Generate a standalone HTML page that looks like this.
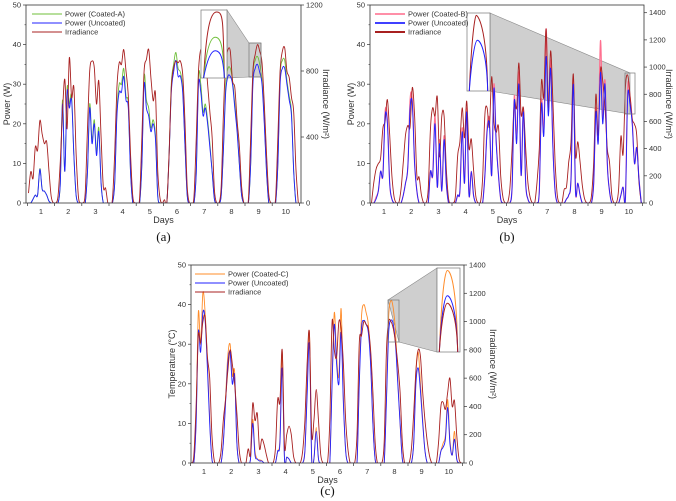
<!DOCTYPE html>
<html><head><meta charset="utf-8">
<style>
html,body{margin:0;padding:0;background:#fff;}
svg{display:block;font-family:"Liberation Sans",sans-serif;}
</style></head>
<body>
<svg id="fig" width="676" height="501" viewBox="0 0 676 501" xmlns="http://www.w3.org/2000/svg"></svg>
<script>
// ---------- DATA (12 samples per day, days 1..10) ----------
const dayLabels = ["1","2","3","4","5","6","7","8","9","10"];
const leftTicks = [0,10,20,30,40,50];
const rightTicksA = [0,400,800,1200];
const rightTicksBC = [0,200,400,600,800,1000,1200,1400];

const irrA = [
 60,190,150,340,320,500,420,360,370,200,40,0,
 0,40,250,550,750,450,880,640,700,300,40,0,
 0,60,450,800,860,820,600,740,400,100,90,0,
 0,20,300,700,850,840,930,800,650,300,40,0,
 0,30,400,800,870,930,760,620,660,200,30,0,
 20,0,300,700,820,860,850,860,780,500,100,0,
 0,40,400,800,930,880,900,720,550,400,80,0,
 0,100,550,850,930,920,740,700,500,350,100,0,
 0,20,400,800,900,960,920,850,600,300,50,0,
 0,30,400,800,920,940,800,760,640,550,200,0];
const uncA = [
 0,0,1,2,2,8.5,3.5,3,2,0.5,0,0,
 0,0,5,25,8,28,24,26,12,2,0,0,
 0,0,8,24,15,20,12,18,5,0,0,0,
 0,0,5,22,28,28,32,26,24,8,0,0,
 0,0,10,30,24,22,18,20,16,2,0,0,
 0,0,12,28,33,36,32,32,28,15,2,0,
 0,0,8,30,28,22,24,20,14,8,1,0,
 0,2,14,28,32,32,30,24,18,10,2,0,
 0,0,10,30,34,35,33,30,20,8,0,0,
 0,0,10,30,34,34,30,26,22,8,0,0];
const coatA = [
 0,0,1,2,2,8.7,3.6,3,2,0.5,0,0,
 0,0,5,26,8,29,25,27,12,2,0,0,
 0,0,8,25,16,21,13,19,5,0,0,0,
 0,0,5,23,30,30,34,27,25,8,0,0,
 0,0,10,32,26,24,19,21,17,2,0,0,
 0,0,12,30,35,38,34,33,29,15,2,0,
 0,0,8,32,30,23,25,21,15,8,1,0,
 0,2,14,30,34,34,31,25,19,10,2,0,
 0,0,10,32,36,37,35,31,21,8,0,0,
 0,0,10,32,36,36,31,27,23,8,0,0];

const irrB = [
 0,150,250,290,330,550,600,760,500,200,40,0,
 0,100,300,500,570,560,850,640,200,190,60,0,
 0,100,550,700,640,780,340,640,640,250,30,0,
 0,50,350,450,700,480,750,400,470,250,50,0,
 0,180,650,700,560,930,600,520,560,200,40,0,
 0,100,400,750,700,1030,650,700,400,150,40,0,
 0,150,400,900,780,1280,700,1120,750,300,50,0,
 0,100,120,300,450,950,350,450,300,130,30,0,
 0,50,300,800,500,980,900,700,400,300,60,0,
 0,100,490,360,850,940,800,620,580,500,150,0];
const uncB = [
 0,0,1,3,8,7,22,20,5,1,0,0,
 0,0,2,5,9,24,25,10,3,0,0,0,
 0,0,8,7,20,4,15,3,16,5,0,0,
 0,0,2,3,18,5,23,2,8,2,0,0,
 0,0,7,18,20,7,29,15,7,1,0,0,
 0,0,4,26,15,30,7,23,5,1,0,0,
 0,0,3,25,17,37,22,34,14,3,0,0,
 0,0,1,2,6,30,3,5,2,0,0,0,
 0,0,5,23,15,33,20,30,10,3,0,0,
 0,0,2,4,1,27,25,20,10,14,6,0];
const coatB = [
 0,0,1.5,3,8,7,23,21,5,1,0,0,
 0,0,2,5,9,26,26,10,3,0,0,0,
 0,0,8,7,22,4,16,3,17,5,0,0,
 0,0,2,3,19,5,24,2,8,2,0,0,
 0,0,7,19,21,7,30,16,7,1,0,0,
 0,0,4,27,16,33,7,24,5,1,0,0,
 0,0,3,26,18,44,23,36,15,3,0,0,
 0,0,1,2,6,32,3,5,2,0,0,0,
 0,0,5,24,16,41,21,31,10,3,0,0,
 0,0,2,4,1,29,27,21,10,14,6,0];

const irrC = [
 0,50,400,900,850,1000,1030,750,600,200,20,0,
 0,80,300,450,650,800,700,560,350,100,0,0,
 0,100,60,420,300,350,100,170,130,60,0,0,
 0,100,450,430,800,120,200,260,200,50,0,0,
 0,80,300,700,920,200,300,520,300,60,0,0,
 0,300,1000,800,750,1000,950,700,300,100,0,0,
 0,200,850,900,1000,980,950,800,500,150,0,0,
 0,150,800,1000,1000,950,850,700,500,150,0,0,
 0,100,350,650,800,750,500,300,150,50,0,0,
 0,150,400,430,380,500,600,400,440,200,30,0];
const uncC = [
 0,0,10,33,28,38,36,24,10,1,0,0,
 0,0,5,15,25,28,20,22,5,0,0,0,
 0,0,1,10,2,1,0.5,0.5,0,0,0,0,
 0,0,3,5,24,1,1.5,1,0,0,0,0,
 0,0,3,17,30,1,1,8,1,0,0,0,
 0,0,20,35,25,20,33,15,3,0,0,0,
 0,0,20,34,36,35,33,25,10,1,0,0,
 0,0,16,33,36,35,30,20,10,1,0,0,
 0,0,5,20,24,18,10,3,0,0,0,0,
 0,0,3,4,6,14,5,2,6,1,0,0];
const coatC = [
 0,0,11,38,30,43,38,26,11,1,0,0,
 0,0,5,16,27,30,22,23,5,0,0,0,
 0,0,1,11,3,1,0.8,0.6,0,0,0,0,
 0,0,3,6,28,1,1.5,1,0,0,0,0,
 0,0,3,19,33,1,1,9,1,0,0,0,
 0,0,21,38,27,22,39,16,3,0,0,0,
 0,0,21,37,40,38,35,26,10,1,0,0,
 0,0,17,37,41,39,33,21,10,1,0,0,
 0,0,5,23,28,20,11,3,0,0,0,0,
 0,0,3,5,7,16,6,2,8,1,0,0];

// ---------- DRAWING ----------
const NS = "http://www.w3.org/2000/svg";
const svg = document.getElementById("fig");
function mk(tag, attrs, parent){
  const e = document.createElementNS(NS, tag);
  for (const k in attrs) e.setAttribute(k, attrs[k]);
  (parent||svg).appendChild(e);
  return e;
}
function smoothPath(pts){
  let d = "M"+pts[0][0].toFixed(1)+","+pts[0][1].toFixed(1);
  for (let i=0;i<pts.length-1;i++){
    const p0=pts[Math.max(0,i-1)], p1=pts[i], p2=pts[i+1], p3=pts[Math.min(pts.length-1,i+2)];
    const c1x=p1[0]+(p2[0]-p0[0])/6, c1y=p1[1]+(p2[1]-p0[1])/6;
    const c2x=p2[0]-(p3[0]-p1[0])/6, c2y=p2[1]-(p3[1]-p1[1])/6;
    d+="C"+c1x.toFixed(1)+","+c1y.toFixed(1)+" "+c2x.toFixed(1)+","+c2y.toFixed(1)+" "+p2[0].toFixed(1)+","+p2[1].toFixed(1);
  }
  return d;
}

function panel(cfg){
  const g = mk("g", {});
  
  
  const {L,R,T,B,day1,dayStep,rightMax,rightTop} = cfg;
  const xT = t => day1 + (t-1)*dayStep;
  const yL = v => B - v/50*(B-T);
  const yR = v => B - v/rightMax*(B-rightTop);
  const clipId = cfg.name+"-clip";
  const cp = mk("clipPath",{id:clipId},g); mk("rect",{x:L,y:T,width:R-L,height:B-T},cp);

  if (cfg.inset){
    const poly = mk("polygon",{points:cfg.inset.poly,fill:"#cfcfcf",stroke:"#888","stroke-width":0.6},g);
    
    
  }

  cfg.series.forEach(s=>{
    const pts = s.data.map((v,i)=>[xT(0.5 + (i+0.5)/12), s.axis==="R"?yR(v):yL(v)]);
    const p = mk("path",{d:smoothPath(pts),fill:"none",stroke:s.color,"stroke-width":s.w||0.9,"clip-path":"url(#"+clipId+")"},g);
    
    
  });

  if (cfg.inset){
    const ib = cfg.inset;
    const sb = mk("rect",{x:ib.small[0],y:ib.small[1],width:ib.small[2],height:ib.small[3],fill:"none",stroke:"#777","stroke-width":0.7},g);
    
    
    const bb = mk("rect",{x:ib.big[0],y:ib.big[1],width:ib.big[2],height:ib.big[3],fill:"#fff",stroke:"#777","stroke-width":0.7},g);
    
    
    const [bx,by,bw,bh]=ib.big;
    ib.curves.forEach(c=>{
      const path = mk("path",{d:`M${bx+bw*0.1},${by+bh} C${bx+bw*0.2},${by+bh*c.h} ${bx+bw*0.35},${by+bh*c.y} ${bx+bw*c.px},${by+bh*c.y} S${bx+bw*0.85},${by+bh*(c.y+0.1)} ${bx+bw*0.9},${by+bh}`,fill:"none",stroke:c.color,"stroke-width":1},g);
      
      
    });
  }

  const fr = mk("rect",{x:L,y:T,width:R-L,height:B-T,fill:"none",stroke:"#333","stroke-width":0.8},g);
  
  

  leftTicks.forEach(v=>{
    const y=yL(v);
    mk("line",{x1:L-3,x2:L,y1:y,y2:y,stroke:"#333","stroke-width":0.7},g);
    if(v<50) mk("line",{x1:L-1.5,x2:L,y1:yL(v+5),y2:yL(v+5),stroke:"#333","stroke-width":0.6},g);
    const t=mk("text",{x:L-5,y:y+2.5,"font-size":7.5,"text-anchor":"end",fill:"#333"},g);
    t.textContent=v;
    
    
  });
  cfg.rightTicks.forEach(v=>{
    const y=yR(v);
    mk("line",{x1:R,x2:R+3,y1:y,y2:y,stroke:"#333","stroke-width":0.7},g);
    const t=mk("text",{x:R+5,y:y+2.5,"font-size":7.5,fill:"#333"},g);
    t.textContent=v;
    
    
  });
  for(let k=0;k<=10;k++){
    const x=xT(k+0.5);
    mk("line",{x1:x,x2:x,y1:B,y2:B+3,stroke:"#333","stroke-width":0.7},g);
  }
  dayLabels.forEach((d,i)=>{
    const t=mk("text",{x:xT(i+1),y:B+11,"font-size":7.5,"text-anchor":"middle",fill:"#333"},g);
    t.textContent=d;
    
    
  });
  const xt=mk("text",{x:(L+R)/2,y:B+20,"font-size":9,"text-anchor":"middle",fill:"#333"},g);
  xt.textContent="Days";
  
  
  const ly=mk("text",{x:0,y:0,"font-size":9,"text-anchor":"middle",fill:"#333",transform:`translate(${L-16},${(T+B)/2}) rotate(-90)`},g);
  ly.textContent=cfg.leftTitle;
  
  
  const ry=mk("text",{x:0,y:0,"font-size":9,"text-anchor":"middle",fill:"#333",transform:`translate(${R+cfg.rTitleOff},${(T+B)/2}) rotate(90)`},g);
  ry.textContent="Irradiance (W/m²)";
  
  
  const pl=mk("text",{x:(L+R)/2,y:cfg.labelY,"font-size":13,"text-anchor":"middle",fill:"#111","font-family":"Liberation Serif, serif"},g);
  pl.textContent=cfg.label;
  
  

  cfg.legend.forEach((e,i)=>{
    const y=cfg.legY+i*9;
    const ln=mk("line",{x1:cfg.legX,x2:cfg.legX+30,y1:y,y2:y,stroke:e.color,"stroke-width":e.w||1},g);
    
    
    const t=mk("text",{x:cfg.legX+33,y:y+2.5,"font-size":7.5,fill:"#333"},g);
    t.textContent=e.label;
    
    
  });
}

panel({name:"panel-a",L:26,R:301,T:5,B:203,day1:41,dayStep:27.2,rightMax:1200,rightTop:5,rightTicks:rightTicksA,
  leftTitle:"Power (W)",rTitleOff:22,label:"(a)",labelY:241,legX:32,legY:14,
  series:[{key:"coated-a",data:coatA,color:"#6fbf3a"},{key:"uncoated",data:uncA,color:"#2020ff"},{key:"irradiance",data:irrA,color:"#a82020",axis:"R"}],
  legend:[{label:"Power (Coated-A)",color:"#6fbf3a"},{label:"Power (Uncoated)",color:"#2020ff"},{label:"Irradiance",color:"#a82020"}],
  inset:{poly:"227,10 249,43 261,43 261,77 249,77 227,78",small:[249,43,12,34],big:[201,10,26,68],
    curves:[{color:"#a82020",y:0.03,px:0.6,h:0.3},{color:"#6fbf3a",y:0.4,px:0.55,h:0.6},{color:"#2020ff",y:0.6,px:0.55,h:0.8}]}
});
panel({name:"panel-b",L:370,R:644,T:5,B:203,day1:384,dayStep:27.2,rightMax:1400,rightTop:12.7,rightTicks:rightTicksBC,
  leftTitle:"Power (W)",rTitleOff:22,label:"(b)",labelY:241,legX:375,legY:14,
  series:[{key:"coated-b",data:coatB,color:"#ff6f8f",w:1.2},{key:"irradiance",data:irrB,color:"#a82020",axis:"R"},{key:"uncoated",data:uncB,color:"#2020ff"}],
  legend:[{label:"Power (Coated-B)",color:"#ff8fa8",w:2},{label:"Power (Uncoated)",color:"#4040ff",w:2},{label:"Irradiance",color:"#a82020",w:2}],
  inset:{poly:"490,13 630,73 630,114 490,91",small:[625,73,10,41],big:[467,13,23,78],
    curves:[{color:"#a82020",y:0.03,px:0.4,h:0.3},{color:"#2020ff",y:0.35,px:0.45,h:0.6}]}
});
panel({name:"panel-c",L:191,R:464,T:265,B:463,day1:204,dayStep:27.2,rightMax:1400,rightTop:265,rightTicks:rightTicksBC,
  leftTitle:"Temperature (°C)",rTitleOff:26,label:"(c)",labelY:495,legX:195,legY:274,
  series:[{key:"coated-c",data:coatC,color:"#ff8c2a"},{key:"uncoated",data:uncC,color:"#2020ff"},{key:"irradiance",data:irrC,color:"#a82020",axis:"R"}],
  legend:[{label:"Power (Coated-C)",color:"#ff8c2a"},{label:"Power (Uncoated)",color:"#2020ff"},{label:"Irradiance",color:"#a82020"}],
  inset:{poly:"388,300 437,268 437,352 399,342",small:[388,300,11,42],big:[437,268,23,84],
    curves:[{color:"#ff8c2a",y:0.03,px:0.45,h:0.3},{color:"#2020ff",y:0.33,px:0.45,h:0.5},{color:"#a82020",y:0.42,px:0.45,h:0.6}]}
});
</script>
</body></html>
